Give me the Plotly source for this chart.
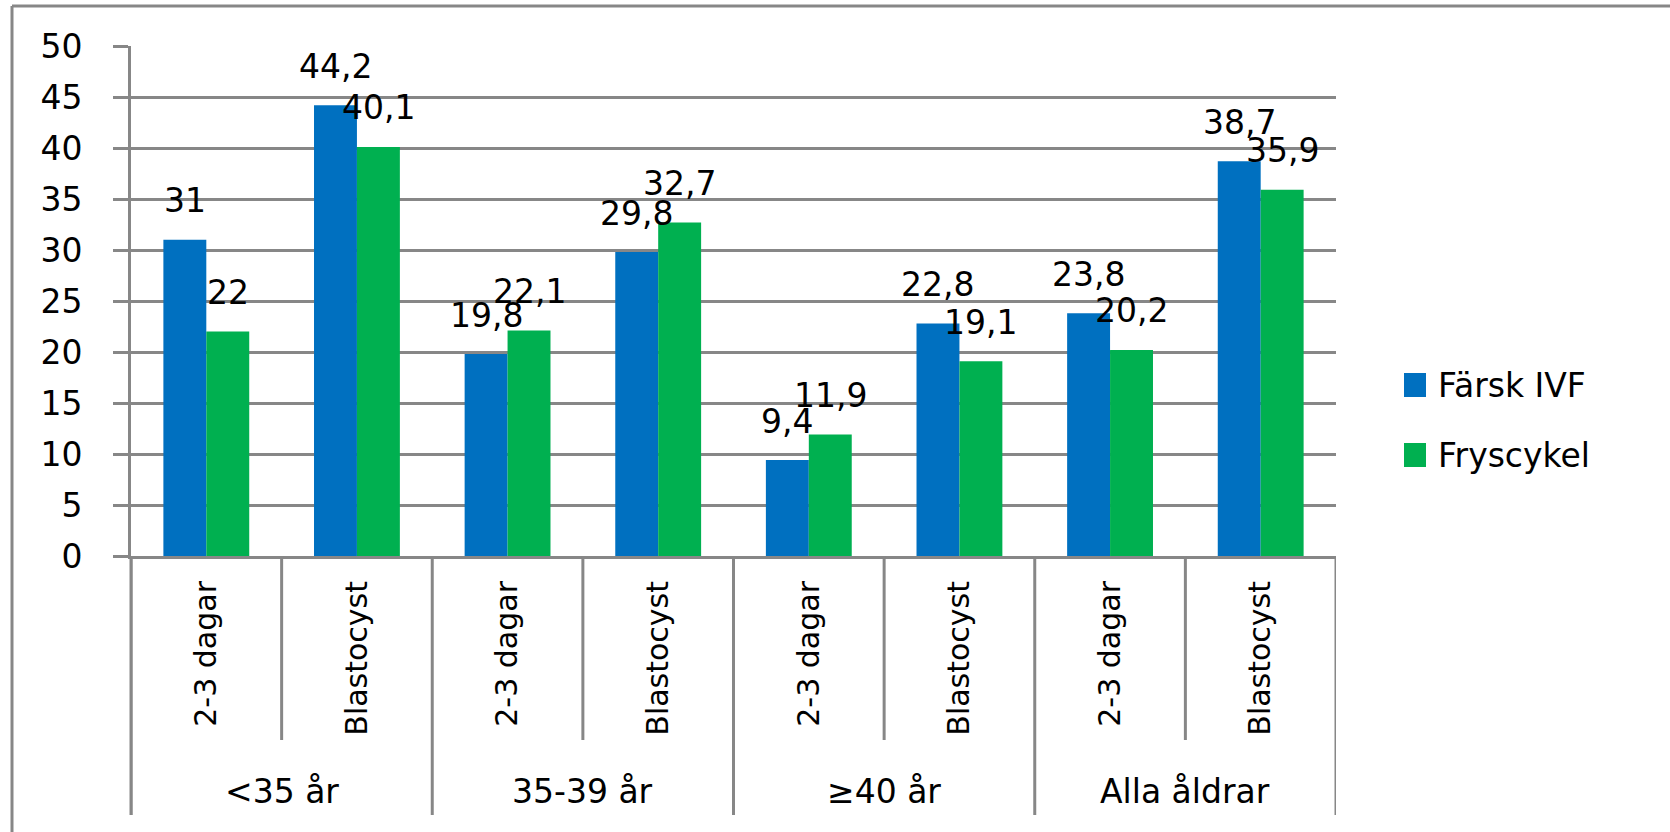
import plotly.graph_objects as go

# Age groups, embryo stage per group, and the two series (percent)
age_groups = ["<35 år", "35-39 år", "≥40 år", "Alla åldrar"]
stages = ["2-3 dagar", "Blastocyst"]
farsk_ivf = [31, 44.2, 19.8, 29.8, 9.4, 22.8, 23.8, 38.7]
fryscykel = [22, 40.1, 22.1, 32.7, 11.9, 19.1, 20.2, 35.9]
series_names = ["Färsk IVF", "Fryscykel"]
y_ticks = [0, 5, 10, 15, 20, 25, 30, 35, 40, 45, 50]

BLUE = "#0070C0"
GREEN = "#00B050"
GRAY = "#878787"
FONT = "DejaVu Sans"

W, H = 1670, 832
ML, MR, MT, MB = 131, 334, 46, 276
PW, PH = W - ML - MR, H - MT - MB


def px_x(px):
    """Horizontal pixel position -> paper coordinate."""
    return (px - ML) / PW


def px_y(py):
    """Vertical pixel position (from top) -> paper coordinate."""
    return (H - MB - py) / PH


n_cat = len(age_groups) * len(stages)
cat_pos = list(range(n_cat))
cat_text = [s for _ in age_groups for s in stages]
bar_w = 0.285

fig = go.Figure()
fig.add_trace(go.Bar(x=cat_pos, y=farsk_ivf, name=series_names[0],
                     marker=dict(color=BLUE, line=dict(width=0)),
                     width=bar_w, offset=-bar_w, showlegend=False))
fig.add_trace(go.Bar(x=cat_pos, y=fryscykel, name=series_names[1],
                     marker=dict(color=GREEN, line=dict(width=0)),
                     width=bar_w, offset=0, showlegend=False))


def fmt(v):
    return f"{v:g}".replace(".", ",")


annotations = []
# value labels above each bar
for vals, shift in ((farsk_ivf, -bar_w / 2), (fryscykel, bar_w / 2)):
    for i, v in enumerate(vals):
        annotations.append(dict(x=i + shift, y=v, xref="x", yref="y",
                                text=fmt(v), showarrow=False, yshift=39,
                                yanchor="middle", xanchor="center",
                                font=dict(family=FONT, size=33, color="black")))

# age group labels under the stage labels
for g, name in enumerate(age_groups):
    annotations.append(dict(x=g * len(stages) + (len(stages) - 1) / 2, y=px_y(791),
                            xref="x", yref="paper", text=name, showarrow=False,
                            yanchor="middle", xanchor="center",
                            font=dict(family=FONT, size=33, color="black")))

shapes = []
line_style = dict(color=GRAY, width=3)
# left axis line continued through the category label area
shapes.append(dict(type="line", xref="paper", yref="paper", x0=0, x1=0,
                   y0=0, y1=px_y(815), line=line_style))
# group dividers and stage dividers
for k in range(n_cat + 1):
    xb = k - 0.5
    bottom = px_y(815) if k % len(stages) == 0 else px_y(740)
    shapes.append(dict(type="line", xref="x", yref="paper", x0=xb, x1=xb,
                       y0=0, y1=bottom, line=line_style))

# chart area frame (top and left edges)
shapes.append(dict(type="line", xref="paper", yref="paper",
                   x0=px_x(12), x1=px_x(W), y0=px_y(6), y1=px_y(6),
                   line=dict(color=GRAY, width=3)))
shapes.append(dict(type="line", xref="paper", yref="paper",
                   x0=px_x(12), x1=px_x(12), y0=px_y(6), y1=px_y(H),
                   line=dict(color=GRAY, width=3)))

# legend
for j, (name, col) in enumerate(zip(series_names, [BLUE, GREEN])):
    cy = 385 + 70 * j
    shapes.append(dict(type="rect", xref="paper", yref="paper",
                       x0=px_x(1404), x1=px_x(1426),
                       y0=px_y(cy - 12), y1=px_y(cy + 12),
                       fillcolor=col, line=dict(width=0)))
    annotations.append(dict(x=px_x(1436), y=px_y(cy), xref="paper", yref="paper",
                            text=name, showarrow=False, xanchor="left",
                            yanchor="middle",
                            font=dict(family=FONT, size=33, color="black")))

fig.update_layout(
    width=W, height=H,
    margin=dict(l=ML, r=MR, t=MT, b=MB, pad=0),
    paper_bgcolor="white", plot_bgcolor="white",
    barmode="overlay",
    showlegend=False,
    font=dict(family=FONT, size=33, color="black"),
    annotations=annotations,
    shapes=shapes,
)
fig.update_xaxes(
    range=[-0.5, n_cat - 0.5], tickmode="array", tickvals=cat_pos,
    ticktext=cat_text, tickangle=-90, ticks="",
    tickfont=dict(family=FONT, size=30, color="black"),
    ticklabelstandoff=10,
    showline=True, linecolor=GRAY, linewidth=3,
    showgrid=False, zeroline=False, automargin=False,
)
fig.update_yaxes(
    range=[0, 50], tickmode="array", tickvals=y_ticks,
    ticks="outside", ticklen=15, tickwidth=3, tickcolor=GRAY,
    ticklabelstandoff=24,
    tickfont=dict(family=FONT, size=33, color="black"),
    showgrid=True, gridcolor=GRAY, gridwidth=3,
    showline=True, linecolor=GRAY, linewidth=3,
    zeroline=False, automargin=False,
)

fig.write_html("out.html")
